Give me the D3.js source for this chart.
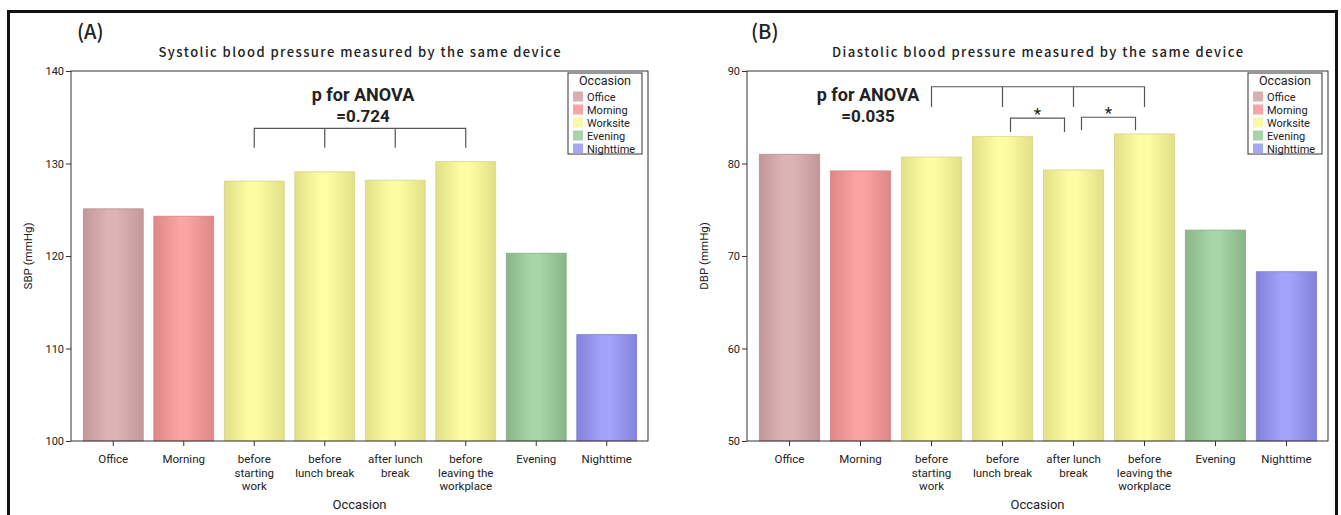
<!DOCTYPE html>
<html>
<head>
<meta charset="utf-8">
<script src="https://cdn.jsdelivr.net/npm/d3@7"></script>
<style>
  body { margin: 0; background: #fff; }
  svg { display: block; }
  text { font-family: "Noto Sans CJK JP", "Noto Sans", sans-serif; fill: #222; }
  .small { font-family: Roboto, "Liberation Sans", sans-serif; }
</style>
</head>
<body>
<div id="chart"></div>
<script>
// 1: DATA
const categories = ["Office", "Morning", "before starting work", "before lunch break",
    "after lunch break", "before leaving the workplace", "Evening", "Nighttime"];
const tickLines = [["Office"], ["Morning"], ["before", "starting", "work"], ["before", "lunch break"],
    ["after lunch", "break"], ["before", "leaving the", "workplace"], ["Evening"], ["Nighttime"]];
const groupOf = ["Office", "Morning", "Worksite", "Worksite", "Worksite", "Worksite", "Evening", "Nighttime"];
const legendItems = ["Office", "Morning", "Worksite", "Evening", "Nighttime"];

const sbpValues = [125.1, 124.3, 128.1, 129.1, 128.2, 130.2, 120.3, 111.5];
const dbpValues = [81.0, 79.2, 80.7, 82.9, 79.3, 83.2, 72.8, 68.3];
const sbpTicks = [100, 110, 120, 130, 140];
const dbpTicks = [50, 60, 70, 80, 90];

// brackets: which bars, height of bar top / tick ends (in mmHg), label
const sbpBrackets = [{ bars: [2, 3, 4, 5], top: 133.8, end: 131.7, label: "" }];
const dbpBrackets = [
    { bars: [2, 3, 4, 5], top: 88.3, end: 86.1, label: "" },
    { bars: [3, 4], top: 84.9, end: 83.4, label: "*" },
    { bars: [4, 5], top: 85.0, end: 83.6, label: "*" }
];

// colours: edge / centre for the cylinder-like gradient, outline, legend swatch
const palette = {
    Office:    { edge: "#c3979a", mid: "#ddb4b6", line: "#b89093", swatch: "#d8b0b2" },
    Morning:   { edge: "#de8787", mid: "#faa3a3", line: "#d38585", swatch: "#f5a5a5" },
    Worksite:  { edge: "#e0e087", mid: "#fdfda3", line: "#d6d68a", swatch: "#f8f8a6" },
    Evening:   { edge: "#89b589", mid: "#a8d6a8", line: "#86ad86", swatch: "#a8d2a8" },
    Nighttime: { edge: "#8282da", mid: "#a3a3fb", line: "#8080cc", swatch: "#a8a8f2" }
};

// 2: SVG
const W = 1341, H = 515;
const svg = d3.select("#chart").append("svg").attr("width", W).attr("height", H);

const defs = svg.append("defs");
Object.entries(palette).forEach(([k, c]) => {
    const g = defs.append("linearGradient").attr("id", "grad-" + k)
        .attr("x1", "0%").attr("x2", "100%").attr("y1", "0%").attr("y2", "0%");
    g.append("stop").attr("offset", "0%").attr("stop-color", c.edge);
    g.append("stop").attr("offset", "42%").attr("stop-color", c.mid);
    g.append("stop").attr("offset", "55%").attr("stop-color", c.mid);
    g.append("stop").attr("offset", "100%").attr("stop-color", c.edge);
});

// outer figure frame (open at the bottom)
svg.append("path")
    .attr("d", `M8.5,${H + 5} V11.5 H1336.5 V${H + 5}`)
    .attr("fill", "none").attr("stroke", "#111").attr("stroke-width", 3);

function drawPanel(opt) {
    const { x0, x1, y0, y1 } = opt;
    const g = svg.append("g");

    const x = d3.scaleBand().domain(categories)
        .range([x0 + 7, x1 - 6]).paddingInner(0.15).paddingOuter(0.075);
    const y = d3.scaleLinear().domain(d3.extent(opt.ticks)).range([y1, y0]);

    // panel letter and title
    g.append("text").attr("x", opt.letterX).attr("y", 39)
        .style("font-size", "20px").style("font-weight", 500).text(opt.letter);
    g.append("text").attr("x", (x0 + x1) / 2).attr("y", 57)
        .attr("text-anchor", "middle")
        .attr("textLength", opt.titleLen).attr("lengthAdjust", "spacing")
        .style("font-size", "13px").style("font-weight", 500)
        .text(opt.title);

    // bars
    g.selectAll("rect.bar").data(opt.values).enter().append("rect")
        .attr("class", "bar")
        .attr("x", (d, i) => x(categories[i]))
        .attr("width", x.bandwidth())
        .attr("y", d => y(d))
        .attr("height", d => y1 - y(d))
        .attr("fill", (d, i) => `url(#grad-${groupOf[i]})`)
        .attr("stroke", (d, i) => palette[groupOf[i]].line)
        .attr("stroke-width", 0.8);

    // plot frame
    g.append("rect").attr("x", x0).attr("y", y0)
        .attr("width", x1 - x0).attr("height", y1 - y0)
        .attr("fill", "none").attr("stroke", "#333").attr("stroke-width", 1);

    // y axis
    const yAxis = g.append("g").attr("transform", `translate(${x0},0)`)
        .call(d3.axisLeft(y).tickValues(opt.ticks).tickSize(5).tickPadding(2));
    yAxis.select(".domain").remove();
    yAxis.selectAll("line").attr("stroke", "#333");
    yAxis.selectAll("text").attr("class", "small").style("font-size", "11px").attr("fill", "#222");

    // x axis with wrapped labels
    const xAxis = g.append("g").attr("transform", `translate(0,${y1})`)
        .call(d3.axisBottom(x).tickSize(5).tickFormat(""));
    xAxis.select(".domain").remove();
    xAxis.selectAll("line").attr("stroke", "#333");
    categories.forEach((c, i) => {
        const t = g.append("text").attr("class", "small")
            .attr("x", x(c) + x.bandwidth() / 2).attr("y", y1 + 22)
            .attr("text-anchor", "middle").style("font-size", "11.5px");
        tickLines[i].forEach((ln, j) => {
            t.append("tspan").attr("x", x(c) + x.bandwidth() / 2)
                .attr("dy", j === 0 ? 0 : 13.5).text(ln);
        });
    });

    // axis labels
    g.append("text").attr("class", "small").attr("x", (x0 + x1) / 2).attr("y", 509)
        .attr("text-anchor", "middle").style("font-size", "13px").text("Occasion");
    g.append("text").attr("class", "small")
        .attr("transform", `translate(${x0 - 39},${(y0 + y1) / 2}) rotate(-90)`)
        .attr("text-anchor", "middle").style("font-size", "11.5px").text(opt.yLabel);

    // ANOVA text
    g.append("text").attr("class", "small").attr("x", opt.pX).attr("y", 101)
        .attr("text-anchor", "middle").style("font-weight", "bold").style("font-size", "18px")
        .text("p for ANOVA");
    g.append("text").attr("class", "small").attr("x", opt.pX).attr("y", 122)
        .attr("text-anchor", "middle").style("font-weight", "bold").style("font-size", "17px")
        .text(opt.pText);

    // brackets
    const cx = i => x(categories[i]) + x.bandwidth() / 2;
    opt.brackets.forEach(b => {
        const inset = b.bars.length === 2 ? [8, -9] : [0, 0];
        const xs = b.bars.map((bi, k) => cx(bi) +
            (k === 0 ? inset[0] : k === b.bars.length - 1 ? inset[1] : 0));
        const path = d3.path();
        path.moveTo(xs[0], y(b.end));
        path.lineTo(xs[0], y(b.top));
        path.lineTo(xs[xs.length - 1], y(b.top));
        path.lineTo(xs[xs.length - 1], y(b.end));
        xs.slice(1, -1).forEach(xx => { path.moveTo(xx, y(b.top)); path.lineTo(xx, y(b.end)); });
        g.append("path").attr("d", path.toString())
            .attr("fill", "none").attr("stroke", "#555").attr("stroke-width", 1.2);
        if (b.label) {
            g.append("text").attr("class", "small")
                .attr("x", (xs[0] + xs[xs.length - 1]) / 2).attr("y", y(b.top) + 2)
                .attr("text-anchor", "middle").style("font-size", "17px").attr("fill", "#444")
                .text(b.label);
        }
    });

    // legend
    const lx = x1 - 80, ly = y0 + 2;
    const lg = g.append("g").attr("transform", `translate(${lx},${ly})`);
    lg.append("rect").attr("width", 74).attr("height", 81)
        .attr("fill", "#fff").attr("stroke", "#333").attr("stroke-width", 1);
    lg.append("text").attr("class", "small").attr("x", 37).attr("y", 12).attr("text-anchor", "middle")
        .style("font-size", "12.5px").text("Occasion");
    legendItems.forEach((k, i) => {
        lg.append("rect").attr("x", 5).attr("y", 18.5 + i * 13)
            .attr("width", 10).attr("height", 10).attr("fill", palette[k].swatch);
        lg.append("text").attr("class", "small").attr("x", 19).attr("y", 27.5 + i * 13)
            .style("font-size", "11px").text(k);
    });
}

drawPanel({
    x0: 71, x1: 648, y0: 71, y1: 441,
    values: sbpValues, ticks: sbpTicks, brackets: sbpBrackets,
    letter: "(A)", letterX: 77, titleLen: 402,
    title: "Systolic blood pressure measured by the same device",
    yLabel: "SBP (mmHg)", pX: 363, pText: "=0.724"
});
drawPanel({
    x0: 747, x1: 1328, y0: 71, y1: 441,
    values: dbpValues, ticks: dbpTicks, brackets: dbpBrackets,
    letter: "(B)", letterX: 751, titleLen: 411,
    title: "Diastolic blood pressure measured by the same device",
    yLabel: "DBP (mmHg)", pX: 868, pText: "=0.035"
});
</script>
</body>
</html>
